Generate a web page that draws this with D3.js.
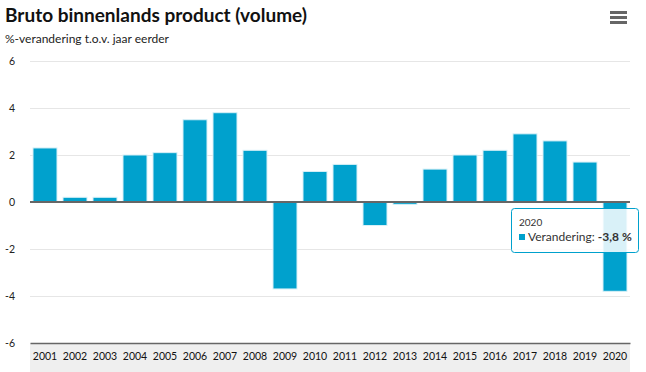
<!DOCTYPE html>
<html>
<head>
<meta charset="utf-8">
<script src="https://cdn.jsdelivr.net/npm/d3@7"></script>
<style>
  body { margin: 0; background: #fff; }
  svg { display: block; font-family: Lato, "Open Sans", sans-serif; }
</style>
</head>
<body>
<div id="container"></div>
<script>
// data
const years = ['2001', '2002', '2003', '2004', '2005', '2006', '2007', '2008', '2009', '2010',
    '2011', '2012', '2013', '2014', '2015', '2016', '2017', '2018', '2019', '2020']
const growth = [2.3, 0.2, 0.2, 2.0, 2.1, 3.5, 3.8, 2.2, -3.7, 1.3,
    1.6, -1.0, -0.1, 1.4, 2.0, 2.2, 2.9, 2.6, 1.7, -3.8]
const yTicks = [-6, -4, -2, 0, 2, 4, 6]
const hoverYear = '2020'

const width = 646
const height = 372
const margin = { top: 61, right: 16, bottom: 29, left: 30 }

// dutch number format with a plain hyphen as minus
const nl = d3.formatLocale({ decimal: ',', thousands: '.', grouping: [3], currency: ['€', ''], minus: '-' })

const svg = d3.select('#container').append('svg')
    .attr('width', width).attr('height', height)

// title + subtitle
svg.append('text')
    .attr('x', 5).attr('y', 22)
    .attr('font-size', 19).attr('font-weight', 'bold').attr('fill', '#111')
    .text('Bruto binnenlands product (volume)')

svg.append('text')
    .attr('x', 5).attr('y', 43)
    .attr('font-size', 12).attr('fill', '#222')
    .text('%-verandering t.o.v. jaar eerder')

// menu icon
svg.append('g').selectAll('line')
    .data([12.5, 17.5, 22.5])
    .enter().append('line')
    .attr('x1', 610).attr('x2', 627)
    .attr('y1', d => d).attr('y2', d => d)
    .attr('stroke', '#666').attr('stroke-width', 3)

const xScale = d3.scaleBand()
    .domain(years)
    .range([margin.left, width - margin.right])
    .paddingInner(0.2)
    .paddingOuter(0.1)

const yScale = d3.scaleLinear()
    .domain([-6, 6])
    .range([height - margin.bottom, margin.top])

// grey band behind the year labels
svg.append('rect')
    .attr('x', margin.left).attr('y', height - margin.bottom)
    .attr('width', width - margin.left - margin.right).attr('height', margin.bottom)
    .attr('fill', '#efefef')

// gridlines
svg.append('g').selectAll('line')
    .data(yTicks.filter(d => d !== 0 && d !== -6))
    .enter().append('line')
    .attr('x1', margin.left).attr('x2', width - margin.right)
    .attr('y1', d => Math.round(yScale(d)) + 0.5).attr('y2', d => Math.round(yScale(d)) + 0.5)
    .attr('stroke', '#e6e6e6')

// y labels
const yAxis = d3.axisLeft(yScale).tickValues(yTicks).tickSize(0).tickPadding(0)
    .tickFormat(nl.format('d'))
svg.append('g').attr('id', 'y-axis')
    .attr('transform', 'translate(15,0)')
    .call(yAxis)
    .call(g => g.select('.domain').remove())
    .call(g => g.selectAll('text').attr('font-size', 10.5).attr('fill', '#222')
        .attr('font-family', 'Lato, sans-serif'))

// bars
svg.append('g').selectAll('rect')
    .data(years.map((y, i) => ({ year: y, value: growth[i] })))
    .enter().append('rect')
    .attr('x', d => xScale(d.year))
    .attr('y', d => yScale(Math.max(0, d.value)))
    .attr('width', xScale.bandwidth())
    .attr('height', d => Math.abs(yScale(d.value) - yScale(0)))
    .attr('fill', '#00a1cd')
    .attr('stroke', '#d8f0f7')
    .attr('stroke-width', 1)

// zero line
svg.append('line')
    .attr('x1', margin.left).attr('x2', width - margin.right)
    .attr('y1', yScale(0)).attr('y2', yScale(0))
    .attr('stroke', '#666').attr('stroke-width', 2)

// x axis
const xAxis = d3.axisBottom(xScale).tickSize(0).tickPadding(10)
svg.append('g').attr('id', 'x-axis')
    .attr('transform', `translate(0, ${height - margin.bottom})`)
    .call(xAxis)
    .call(g => g.select('.domain').attr('stroke', '#666').attr('stroke-width', 1.5))
    .call(g => g.selectAll('text').attr('font-size', 10.5).attr('fill', '#111')
        .attr('font-family', 'Lato, sans-serif'))

// tooltip
const hv = growth[years.indexOf(hoverYear)]
const tipX = xScale(hoverYear) + xScale.bandwidth() + 12 - 128
const tipY = yScale(0) + 6
const tip = svg.append('g').attr('transform', `translate(${tipX},${tipY})`)
tip.append('rect')
    .attr('x', 0.5).attr('y', 0.5).attr('width', 127).attr('height', 44)
    .attr('rx', 3)
    .attr('fill', 'rgba(255,255,255,0.85)')
    .attr('stroke', '#00a1cd').attr('stroke-width', 1)
tip.append('text')
    .attr('x', 8).attr('y', 18)
    .attr('font-size', 10).attr('fill', '#333')
    .text(hoverYear)
tip.append('rect')
    .attr('x', 8).attr('y', 26).attr('width', 6).attr('height', 6)
    .attr('fill', '#00a1cd')
const line2 = tip.append('text')
    .attr('x', 17).attr('y', 33)
    .attr('font-size', 12).attr('fill', '#333')
line2.append('tspan').text('Verandering: ')
line2.append('tspan').attr('font-weight', 'bold')
    .text(nl.format('.1f')(hv) + ' %')
</script>
</body>
</html>
